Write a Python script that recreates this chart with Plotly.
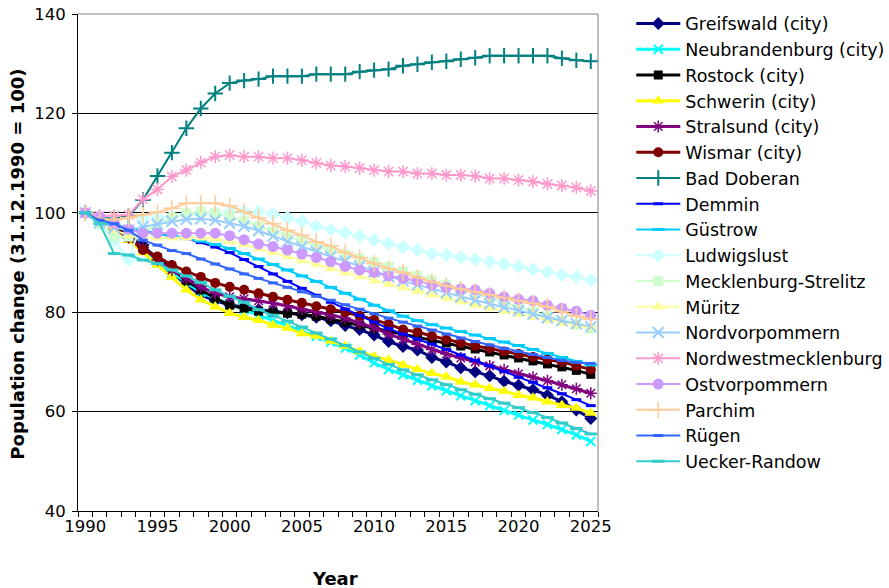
import plotly.graph_objects as go

# Years (one category per year)
years = [1990, 1991, 1992, 1993, 1994, 1995, 1996, 1997, 1998, 1999,
         2000, 2001, 2002, 2003, 2004, 2005, 2006, 2007, 2008, 2009,
         2010, 2011, 2012, 2013, 2014, 2015, 2016, 2017, 2018, 2019,
         2020, 2021, 2022, 2023, 2024, 2025]

# Population index, 31.12.1990 = 100
greifswald = [100, 98.5, 97.0, 95.5, 93.5, 90.5, 88.0, 85.5, 83.5, 82.3,
              81.5, 81.0, 80.5, 80.2, 79.9, 79.5, 79.0, 78.3, 77.3, 76.5,
              75.4, 74.1, 73.1, 72.4, 70.9, 70.0, 68.8, 68.0, 67.2, 66.1,
              65.3, 64.4, 63.3, 62.0, 60.3, 58.6]
neubrandenburg = [100, 98.5, 97.0, 95.5, 93.0, 90.0, 88.0, 86.0, 84.0, 82.8,
                  81.6, 80.5, 79.4, 78.4, 77.3, 76.2, 75.1, 74.0, 72.8, 71.4,
                  69.8, 68.5, 67.4, 66.3, 65.2, 64.2, 63.2, 62.2, 61.2, 60.2,
                  59.3, 58.3, 57.4, 56.4, 55.3, 54.0]
rostock = [100, 98.5, 97.0, 95.5, 93.0, 91.0, 88.8, 86.3, 84.5, 82.8,
           81.4, 80.8, 80.2, 80.0, 79.8, 79.6, 79.2, 78.6, 78.0, 77.4,
           76.8, 76.2, 75.6, 75.0, 74.4, 73.8, 73.2, 72.6, 72.0, 71.4,
           70.8, 70.2, 69.6, 69.0, 68.3, 67.5]
schwerin = [100, 98.5, 97.0, 94.5, 92.0, 89.5, 87.1, 84.5, 82.5, 81.1,
            79.8, 79.0, 78.4, 77.4, 76.8, 75.7, 75.2, 74.2, 73.2, 72.1,
            71.1, 70.4, 69.4, 68.5, 67.7, 67.0, 66.0, 65.4, 64.7, 64.1,
            63.3, 62.8, 62.0, 61.3, 60.7, 59.7]
stralsund = [100, 98.5, 97.0, 95.0, 93.0, 90.5, 88.5, 86.8, 85.1, 83.8,
             83.1, 82.7, 82.3, 81.8, 81.3, 80.6, 80.1, 79.4, 78.8, 77.8,
             76.9, 75.6, 74.6, 73.5, 72.5, 71.6, 70.8, 70.0, 69.2, 68.4,
             67.6, 66.9, 66.2, 65.4, 64.6, 63.7]
wismar = [100, 98.5, 97.0, 95.0, 92.5, 91.2, 89.5, 88.2, 87.1, 85.9,
          85.1, 84.5, 83.8, 83.1, 82.5, 81.9, 81.2, 80.6, 80.0, 79.3,
          78.5, 77.6, 76.5, 76.0, 75.2, 74.5, 73.8, 73.2, 72.7, 72.1,
          71.6, 71.0, 70.5, 70.0, 69.2, 68.5]
bad_doberan = [100, 99.0, 98.8, 99.3, 102.6, 107.4, 112.1, 117.0, 121.0, 124.0,
               126.1, 126.6, 126.9, 127.5, 127.5, 127.5, 127.9, 127.9, 127.9, 128.4,
               128.7, 128.9, 129.6, 129.9, 130.3, 130.5, 130.9, 131.2, 131.6, 131.6,
               131.6, 131.6, 131.6, 131.1, 130.7, 130.5]
demmin = [100, 98.5, 97.5, 96.8, 96.3, 95.8, 95.3, 94.8, 94.0, 93.1,
          92.0, 90.6, 89.2, 87.7, 86.2, 84.8, 83.4, 82.0, 80.6, 79.3,
          78.0, 76.7, 75.6, 74.6, 73.6, 72.5, 71.4, 70.3, 69.2, 68.1,
          66.9, 65.9, 64.8, 63.6, 62.4, 61.2]
guestrow = [100, 98.5, 97.5, 96.8, 96.2, 95.8, 95.3, 94.9, 94.3, 93.6,
            92.8, 91.8, 90.7, 89.6, 88.5, 87.3, 86.2, 85.0, 83.8, 82.6,
            81.4, 80.3, 79.2, 78.3, 77.5, 76.8, 76.1, 75.4, 74.7, 74.0,
            73.3, 72.5, 71.7, 70.9, 70.1, 69.4]
ludwigslust = [100, 97.8, 94.5, 90.6, 98.8, 99.0, 99.3, 99.6, 99.8, 100.0,
               100.2, 100.3, 100.2, 99.8, 99.0, 98.3, 97.3, 96.6, 96.0, 95.3,
               94.5, 93.8, 93.1, 92.5, 91.8, 91.5, 91.0, 90.6, 90.2, 89.7,
               89.2, 88.6, 88.1, 87.5, 87.1, 86.5]
meck_strelitz = [100, 97.8, 95.2, 95.2, 96.2, 97.6, 99.0, 99.9, 100.2, 99.9,
                 99.2, 98.3, 97.3, 96.3, 95.3, 94.3, 93.3, 92.6, 91.6, 90.8,
                 90.1, 89.1, 88.2, 87.3, 86.4, 85.5, 84.6, 83.7, 82.8, 81.9,
                 81.0, 80.1, 79.2, 78.3, 77.5, 76.7]
mueritz = [100, 98.0, 96.5, 95.5, 95.0, 95.0, 95.0, 95.0, 95.0, 94.8,
           94.3, 93.6, 92.8, 92.0, 91.2, 90.4, 89.6, 88.8, 88.0, 87.2,
           86.4, 85.6, 84.9, 84.2, 83.5, 82.8, 82.1, 81.4, 80.8, 80.2,
           79.6, 79.0, 78.4, 77.8, 77.3, 76.8]
nordvorpommern = [100, 98.0, 97.0, 96.5, 97.2, 97.7, 98.3, 98.7, 98.8, 98.5,
                  97.9, 97.3, 96.4, 95.3, 94.2, 93.2, 92.2, 91.2, 90.3, 89.2,
                  88.2, 87.2, 86.3, 85.5, 84.7, 83.9, 83.1, 82.4, 81.7, 81.0,
                  80.3, 79.6, 78.9, 78.3, 77.7, 77.1]
nordwestmeck = [100, 99.4, 99.4, 99.6, 102.7, 104.7, 107.3, 108.6, 110.1, 111.3,
                111.6, 111.3, 111.3, 111.0, 111.0, 110.6, 110.0, 109.5, 109.3, 109.0,
                108.6, 108.3, 108.3, 107.9, 107.9, 107.6, 107.6, 107.4, 106.9, 106.9,
                106.6, 106.3, 105.8, 105.5, 105.1, 104.4]
ostvorpommern = [100, 99.2, 97.9, 96.7, 95.9, 95.9, 95.9, 95.9, 95.9, 95.9,
                 95.4, 94.6, 93.7, 93.2, 92.5, 91.7, 91.0, 90.2, 89.2, 88.5,
                 88.0, 87.3, 86.8, 86.3, 85.5, 85.0, 84.7, 84.5, 83.8, 83.1,
                 82.6, 82.3, 81.4, 80.8, 80.2, 79.4]
parchim = [100, 98.8, 98.6, 99.0, 99.6, 100.1, 100.9, 101.9, 101.9, 101.9,
           101.4, 100.2, 99.0, 97.8, 96.5, 95.5, 94.2, 93.3, 92.0, 91.0,
           89.8, 88.8, 88.0, 87.0, 86.1, 85.3, 84.6, 84.1, 83.5, 82.9,
           82.3, 81.8, 81.1, 80.1, 79.2, 78.6]
ruegen = [100, 98.5, 97.8, 96.5, 94.5, 93.5, 92.4, 91.8, 90.7, 89.7,
          88.7, 87.7, 86.8, 85.9, 85.0, 84.1, 83.2, 82.4, 81.5, 80.6,
          79.7, 78.8, 78.0, 77.2, 76.4, 75.6, 74.8, 74.1, 73.4, 72.7,
          72.1, 71.5, 70.9, 70.3, 69.9, 69.7]
uecker_randow = [100, 97.8, 91.8, 91.5, 90.5, 89.8, 88.5, 87.3, 86.0, 84.5,
                 83.2, 82.0, 80.5, 79.4, 78.2, 77.0, 75.8, 74.6, 73.3, 72.0,
                 70.7, 69.5, 68.4, 67.4, 66.4, 65.4, 64.4, 63.5, 62.6, 61.7,
                 60.8, 59.8, 58.8, 57.7, 56.6, 55.5]

x_tick_labels = ["1990", "1995", "2000", "2005", "2010", "2015", "2020", "2025"]
x_tick_vals = [1990, 1995, 2000, 2005, 2010, 2015, 2020, 2025]

# name, values, colour, marker symbol, marker size, line width, marker outline width
series = [
    ("Greifswald (city)", greifswald, "#000080", "diamond", 10, 3, 0),
    ("Neubrandenburg (city)", neubrandenburg, "#00FFFF", "x-thin-open", 9, 3, 2),
    ("Rostock (city)", rostock, "#000000", "square", 9, 3, 0),
    ("Schwerin (city)", schwerin, "#FFFF00", "triangle-up", 11, 3, 0),
    ("Stralsund (city)", stralsund, "#800080", "asterisk-open", 10, 3, 1.5),
    ("Wismar (city)", wismar, "#800000", "circle", 10, 3, 0),
    ("Bad Doberan", bad_doberan, "#008080", "cross-thin-open", 11, 2, 2),
    ("Demmin", demmin, "#0000FF", "line-ew-open", 7, 2, 3),
    ("Güstrow", guestrow, "#00CCFF", "line-ew-open", 9, 2, 3),
    ("Ludwigslust", ludwigslust, "#CCFFFF", "diamond", 11, 2, 0),
    ("Mecklenburg-Strelitz", meck_strelitz, "#CCFFCC", "square", 10, 2, 0),
    ("Müritz", mueritz, "#FFFF99", "triangle-up", 11, 2, 0),
    ("Nordvorpommern", nordvorpommern, "#99CCFF", "x-thin-open", 11, 2, 2),
    ("Nordwestmecklenburg", nordwestmeck, "#FF99CC", "asterisk-open", 11, 2, 1.5),
    ("Ostvorpommern", ostvorpommern, "#CC99FF", "circle", 11, 2, 0),
    ("Parchim", parchim, "#FFCC99", "cross-thin-open", 12, 2, 1.5),
    ("Rügen", ruegen, "#3366FF", "line-ew-open", 7, 2, 3),
    ("Uecker-Randow", uecker_randow, "#33CCCC", "line-ew-open", 9, 2, 3),
]

FONT = "DejaVu Sans, Verdana, sans-serif"

fig = go.Figure()
for name, vals, color, symbol, msize, lwidth, mlw in series:
    fig.add_trace(go.Scatter(
        x=years, y=vals, name=name, mode="lines+markers",
        line=dict(color=color, width=lwidth),
        marker=dict(symbol=symbol, size=msize, color=color,
                    line=dict(color=color, width=mlw)),
    ))

fig.update_layout(
    width=889, height=588,
    margin=dict(l=78, r=291, t=14, b=77, autoexpand=False),
    paper_bgcolor="white", plot_bgcolor="white",
    font=dict(family=FONT, size=16.5, color="#000000"),
    showlegend=True,
    legend=dict(
        x=1.064, xanchor="left",
        y=0.063, yanchor="bottom",
        itemwidth=44,
        font=dict(family=FONT, size=17.5, color="#000000"),
        bgcolor="rgba(0,0,0,0)", borderwidth=0,
    ),
    xaxis=dict(
        range=[1989.5, 2025.5], automargin=False,
        tickmode="array", tickvals=x_tick_vals, ticktext=x_tick_labels,
        ticks="", showgrid=False, zeroline=False,
        showline=True, linecolor="#000000", linewidth=1,
        tickfont=dict(family=FONT, size=16.5, color="#000000"),
        minor=dict(tickmode="linear", tick0=1989.5, dtick=1,
                   ticks="outside", ticklen=5, tickcolor="#000000",
                   tickwidth=1, showgrid=False),
    ),
    yaxis=dict(
        range=[40, 140], tickmode="linear", tick0=40, dtick=20,
        automargin=False,
        ticks="outside", ticklen=5, tickcolor="#000000",
        showgrid=True, gridcolor="#000000", gridwidth=1,
        zeroline=False, showline=True, linecolor="#000000", linewidth=1,
        tickfont=dict(family=FONT, size=16.5, color="#000000"),
        ticklabelstandoff=3,
    ),
    annotations=[
        dict(text="<b>Population change (31.12.1990 = 100)</b>",
             xref="paper", yref="paper", x=-0.117, y=0.496,
             xanchor="center", yanchor="middle",
             textangle=-90, showarrow=False,
             font=dict(family=FONT, size=18, color="#000000")),
        dict(text="<b>Year</b>", xref="paper", yref="paper",
             x=0.494, y=-0.135, xanchor="center", yanchor="middle",
             showarrow=False,
             font=dict(family=FONT, size=18, color="#000000")),
    ],
    shapes=[
        dict(type="line", xref="paper", yref="paper", x0=0, x1=1, y0=1, y1=1,
             line=dict(color="#808080", width=1), layer="above"),
        dict(type="line", xref="paper", yref="paper", x0=1, x1=1, y0=0, y1=1,
             line=dict(color="#808080", width=1), layer="above"),
    ],
)

fig.write_html("out.html")
